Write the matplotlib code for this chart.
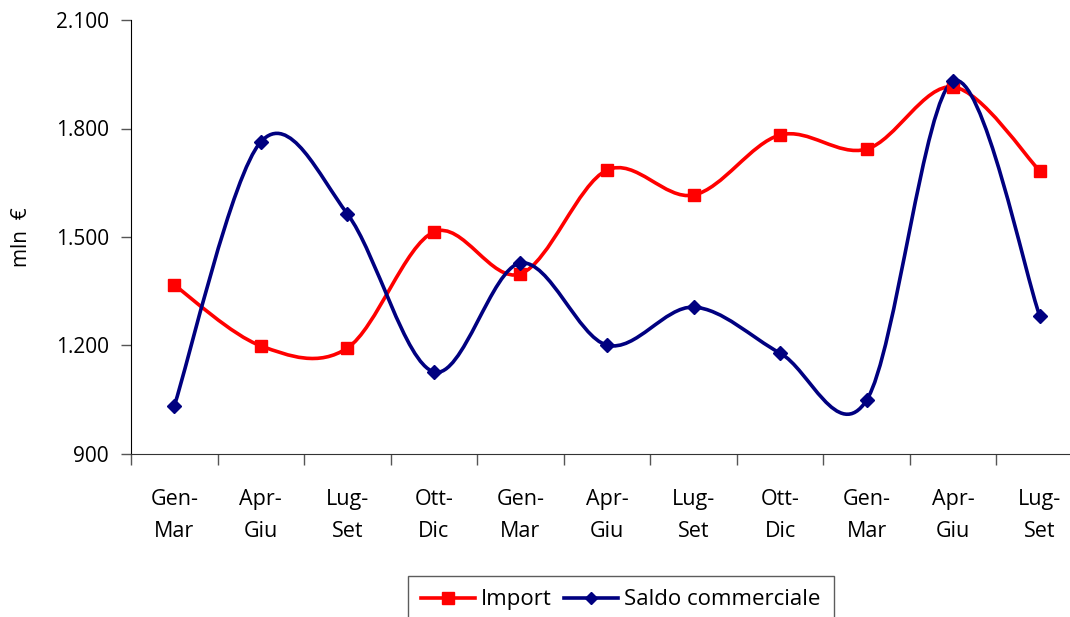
import matplotlib
matplotlib.use("Agg")
import matplotlib.pyplot as plt
from matplotlib.path import Path
from matplotlib.patches import PathPatch
from matplotlib.lines import Line2D
from matplotlib.ticker import FixedLocator, FuncFormatter

plt.rcParams['font.family'] = ['Open Sans', 'DejaVu Sans']

periods = ['Gen-\nMar', 'Apr-\nGiu', 'Lug-\nSet', 'Ott-\nDic',
           'Gen-\nMar', 'Apr-\nGiu', 'Lug-\nSet', 'Ott-\nDic',
           'Gen-\nMar', 'Apr-\nGiu', 'Lug-\nSet']
import_vals = [1367, 1199, 1193, 1514, 1398, 1685, 1616, 1782, 1743, 1915, 1683]
saldo_vals = [1033, 1763, 1564, 1127, 1428, 1201, 1306, 1179, 1049, 1931, 1282]

RED = '#ff0000'
NAVY = '#000080'


def smooth_path(xs, ys):
    # excel-like smoothed line: bezier segments with catmull-rom handles
    n = len(xs)
    verts = [(xs[0], ys[0])]
    codes = [Path.MOVETO]
    for i in range(n - 1):
        a = max(i - 1, 0)
        b = min(i + 2, n - 1)
        c1 = (xs[i] + (xs[i + 1] - xs[a]) / 6, ys[i] + (ys[i + 1] - ys[a]) / 6)
        c2 = (xs[i + 1] - (xs[b] - xs[i]) / 6, ys[i + 1] - (ys[b] - ys[i]) / 6)
        verts += [c1, c2, (xs[i + 1], ys[i + 1])]
        codes += [Path.CURVE4] * 3
    return Path(verts, codes)


fig = plt.figure(figsize=(10.70, 6.17), dpi=100)
ax = fig.add_axes([131 / 1070, 1 - 454 / 617, (1083 - 131) / 1070, (454 - 20) / 617])

x = list(range(len(periods)))
for vals, col, mk, ms in [(import_vals, RED, 's', 8), (saldo_vals, NAVY, 'D', 7)]:
    ax.add_patch(PathPatch(smooth_path(x, vals), fill=False, edgecolor=col,
                           lw=2.6, capstyle='round', joinstyle='round', zorder=2))
    ax.plot(x, vals, ls='none', marker=mk, ms=ms, color=col, zorder=3)

ax.set_xlim(-0.5, len(periods) - 0.5)
ax.set_ylim(900, 2100)
ax.set_yticks([900, 1200, 1500, 1800, 2100])
ax.yaxis.set_major_formatter(FuncFormatter(lambda v, p: f'{int(v):,}'.replace(',', '.')))
ax.xaxis.set_major_locator(FixedLocator([i - 0.5 for i in range(len(periods) + 1)]))
ax.xaxis.set_minor_locator(FixedLocator(x))
ax.set_xticklabels([])
ax.set_xticklabels(periods, minor=True)
ax.tick_params(axis='x', which='minor', length=0, pad=25, labelsize=15.5)
ax.tick_params(axis='x', which='major', length=8, width=1, color='#555555')
ax.tick_params(axis='y', length=7, width=1, color='#555555', labelsize=15, pad=9)
for lbl in ax.get_xticklabels(minor=True):
    lbl.set_linespacing(1.7)

for s in ['top', 'right']:
    ax.spines[s].set_visible(False)
ax.spines['left'].set_color('black')
ax.spines['bottom'].set_color('#333333')
ax.set_ylabel('mln  €', fontsize=15, labelpad=17)

handles = [Line2D([], [], color=RED, lw=2.6, marker='s', ms=8),
           Line2D([], [], color=NAVY, lw=2.6, marker='D', ms=6)]
leg = fig.legend(handles, ['Import', 'Saldo commerciale'], ncol=2,
                 loc='upper left', bbox_to_anchor=(408 / 1070, 1 - 576 / 617),
                 frameon=True, fancybox=False, fontsize=16, handlelength=2.4,
                 handletextpad=0.3, columnspacing=0.55, borderpad=0.6,
                 borderaxespad=0)
leg.get_frame().set_edgecolor('#333333')
leg.get_frame().set_linewidth(1)

fig.savefig('out.png', dpi=100)
